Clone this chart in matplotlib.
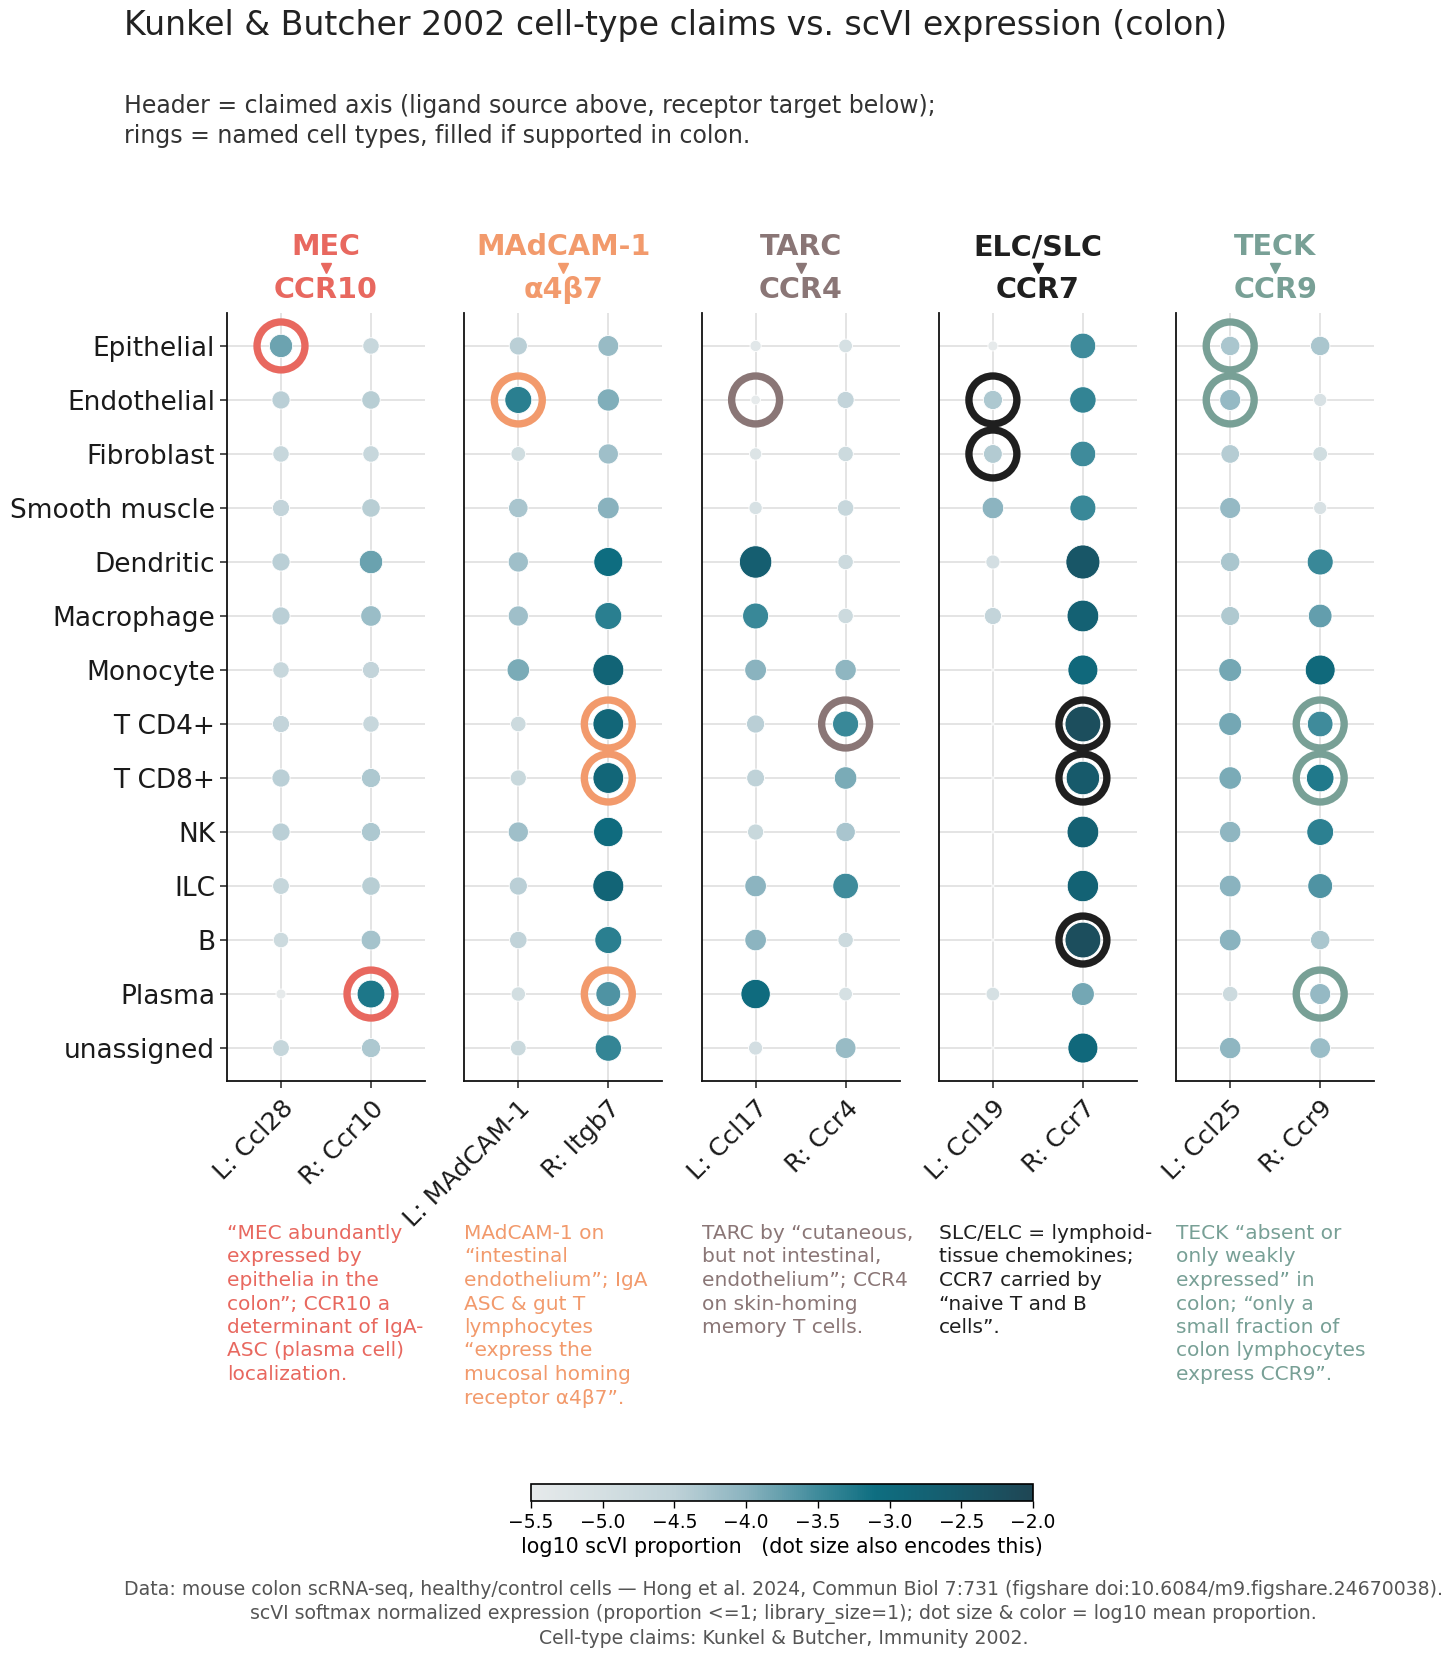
import numpy as np
import matplotlib
matplotlib.use("Agg")
import matplotlib.pyplot as plt
from matplotlib.colors import LinearSegmentedColormap, Normalize
from matplotlib.lines import Line2D
import matplotlib.colorbar as mcolorbar

# ---------------- data ----------------
cell_types = ["Epithelial", "Endothelial", "Fibroblast", "Smooth muscle", "Dendritic",
              "Macrophage", "Monocyte", "T CD4+", "T CD8+", "NK", "ILC", "B",
              "Plasma", "unassigned"]

ligands = ["MEC", "MAdCAM-1", "TARC", "ELC/SLC", "TECK"]
receptors = ["CCR10", "α4β7", "CCR4", "CCR7", "CCR9"]
axis_colors = ["#e8685f", "#f29a6c", "#8a7676", "#1f1f1f", "#78a096"]

genes_L = ["L: Ccl28", "L: MAdCAM-1", "L: Ccl17", "L: Ccl19", "L: Ccl25"]
genes_R = ["R: Ccr10", "R: Itgb7", "R: Ccr4", "R: Ccr7", "R: Ccr9"]

# log10 scVI mean proportion per cell type (rows as cell_types)
ccl28 = [-3.80, -4.46, -4.68, -4.59, -4.46, -4.46, -4.68, -4.59, -4.46, -4.46, -4.64, -4.80, -5.50, -4.64]
ccr10 = [-4.68, -4.42, -4.68, -4.42, -3.78, -4.15, -4.59, -4.68, -4.33, -4.33, -4.42, -4.25, -3.22, -4.33]
madcam1 = [-4.46, -3.33, -4.90, -4.29, -4.20, -4.20, -3.90, -4.80, -4.72, -4.20, -4.46, -4.55, -4.94, -4.77]
itgb7 = [-4.12, -3.93, -4.20, -3.99, -3.07, -3.33, -2.81, -2.85, -2.85, -3.02, -2.81, -3.33, -3.60, -3.41]
ccl17 = [-5.35, -5.55, -5.20, -5.08, -2.63, -3.46, -4.00, -4.46, -4.50, -4.72, -4.02, -4.02, -3.02, -4.98]
ccr4 = [-5.03, -4.59, -4.81, -4.68, -4.81, -4.81, -4.05, -3.45, -3.90, -4.29, -3.50, -4.81, -5.03, -4.12]
ccl19 = [-5.50, -4.33, -4.38, -4.02, -4.98, -4.59, -6.50, -6.50, -6.50, -6.50, -6.50, -6.50, -5.03, -6.50]
ccr7 = [-3.50, -3.40, -3.50, -3.45, -2.42, -2.72, -2.94, -2.20, -2.50, -2.72, -2.76, -2.20, -3.85, -2.94]
ccl25 = [-4.30, -4.10, -4.40, -4.10, -4.30, -4.35, -3.85, -3.85, -3.90, -4.05, -4.00, -4.00, -4.80, -4.05]
ccr9 = [-4.30, -5.10, -4.90, -5.10, -3.45, -3.75, -2.95, -3.50, -3.25, -3.35, -3.60, -4.30, -4.10, -4.15]

values_L = [ccl28, madcam1, ccl17, ccl19, ccl25]
values_R = [ccr10, itgb7, ccr4, ccr7, ccr9]

# claimed (ringed) cell types per gene
rings_L = [["Epithelial"], ["Endothelial"], ["Endothelial"], ["Endothelial", "Fibroblast"],
           ["Epithelial", "Endothelial"]]
rings_R = [["Plasma"], ["T CD4+", "T CD8+", "Plasma"], ["T CD4+"], ["T CD4+", "T CD8+", "B"],
           ["T CD4+", "T CD8+", "Plasma"]]

notes = [
    "“MEC abundantly\nexpressed by\nepithelia in the\ncolon”; CCR10 a\ndeterminant of IgA-\nASC (plasma cell)\nlocalization.",
    "MAdCAM-1 on\n“intestinal\nendothelium”; IgA\nASC & gut T\nlymphocytes\n“express the\nmucosal homing\nreceptor α4β7”.",
    "TARC by “cutaneous,\nbut not intestinal,\nendothelium”; CCR4\non skin-homing\nmemory T cells.",
    "SLC/ELC = lymphoid-\ntissue chemokines;\nCCR7 carried by\n“naive T and B\ncells”.",
    "TECK “absent or\nonly weakly\nexpressed” in\ncolon; “only a\nsmall fraction of\ncolon lymphocytes\nexpress CCR9”.",
]

vmin, vmax = -5.5, -2.0
cbar_ticks = [-5.5, -5.0, -4.5, -4.0, -3.5, -3.0, -2.5, -2.0]

# ---------------- style ----------------
plt.rcParams['font.family'] = ['DejaVu Sans']
W, H = 1456, 1657
fig = plt.figure(figsize=(W / 100, H / 100), dpi=100)

stops = [(-5.5, "#e6eaeb"), (-5.0, "#d4dfe2"), (-4.5, "#bfd2d8"), (-4.0, "#8ab3bf"),
         (-3.5, "#3f8b9b"), (-3.1, "#0e6e81"), (-2.5, "#175a6b"), (-2.0, "#1f4654")]
cmap = LinearSegmentedColormap.from_list(
    "teal", [((v - vmin) / (vmax - vmin), c) for v, c in stops])
norm = Normalize(vmin=vmin, vmax=vmax, clip=True)

EDGE_LW = 0.6


def dot_size(v):
    v = np.asarray(v, dtype=float)
    d_px = np.clip(9.2 + 7.8 * (v - vmin), 1.0, None)
    d_pt = d_px * 0.72 + EDGE_LW
    return d_pt ** 2


ax_w = 198 / W
ax_h = 768 / H
ax_b = 1 - 1081 / H
lefts = [227 + i * 237.3 for i in range(5)]
y = np.arange(len(cell_types))

for i in range(5):
    ax = fig.add_axes([lefts[i] / W, ax_b, ax_w, ax_h])
    ax.set_xlim(-0.6, 1.6)
    ax.set_ylim(len(cell_types) - 1 + 0.61, -0.61)
    # grid
    for yy in y:
        ax.axhline(yy, color="#dddddd", lw=1.1, zorder=0)
    for xx in (0, 1):
        ax.axvline(xx, color="#dddddd", lw=1.1, zorder=0)
    for col, vals, rings in ((0, values_L[i], rings_L[i]), (1, values_R[i], rings_R[i])):
        vals = np.asarray(vals)
        ax.scatter(np.full(len(y), col), y, s=dot_size(vals), c=vals, cmap=cmap, norm=norm,
                   edgecolors="white", linewidths=EDGE_LW, zorder=3)
        ry = [cell_types.index(r) for r in rings]
        ax.scatter(np.full(len(ry), col), ry, s=34.5 ** 2, facecolors="none",
                   edgecolors=axis_colors[i], linewidths=5.3, zorder=4)
    ax.set_xticks([0, 1])
    ax.set_xticklabels([genes_L[i], genes_R[i]], rotation=45, ha="right",
                       rotation_mode="anchor", fontsize=18.2, color="#1a1a1a")
    ax.tick_params(axis="x", length=5, width=1.1, color="#222222", pad=6)
    ax.set_yticks(y)
    if i == 0:
        ax.set_yticklabels(cell_types, fontsize=19, color="#1a1a1a")
        ax.tick_params(axis="y", length=5, width=1.1, color="#222222")
    else:
        ax.set_yticklabels([])
        ax.tick_params(axis="y", length=0)
    for sp in ("top", "right"):
        ax.spines[sp].set_visible(False)
    for sp in ("left", "bottom"):
        ax.spines[sp].set_linewidth(1.3)
        ax.spines[sp].set_color("#111111")
    # header
    cx = (lefts[i] + 99) / W
    fig.text(cx, 1 - 247 / H, ligands[i], ha="center", va="center", fontsize=20.6,
             fontweight="bold", color=axis_colors[i])
    fig.add_artist(Line2D([cx], [1 - 268 / H], marker="v", markersize=7.5, linestyle="none",
                          color=axis_colors[i], transform=fig.transFigure))
    fig.text(cx, 1 - 290 / H, receptors[i], ha="center", va="center", fontsize=20.6,
             fontweight="bold", color=axis_colors[i])
    # notes
    fig.text(lefts[i] / W, 1 - 1224 / H, notes[i], ha="left", va="top", fontsize=14.5,
             color=axis_colors[i], linespacing=1.3)

# title and subtitle
fig.text(124 / W, 1 - 25 / H, "Kunkel & Butcher 2002 cell-type claims vs. scVI expression (colon)",
         ha="left", va="center", fontsize=23.9, color="#222222")
fig.text(124 / W, 1 - 121 / H,
         "Header = claimed axis (ligand source above, receptor target below);\n"
         "rings = named cell types, filled if supported in colon.",
         ha="left", va="center", fontsize=17, color="#333333", linespacing=1.3)

# colorbar
cax = fig.add_axes([531 / W, 1 - 1501 / H, 502 / W, 17 / H])
cb = mcolorbar.ColorbarBase(cax, cmap=cmap, norm=Normalize(vmin=vmin, vmax=vmax),
                            orientation="horizontal", ticks=cbar_ticks)
cb.outline.set_linewidth(1.2)
cb.ax.tick_params(labelsize=13.5, length=5, width=1.0)
cb.set_label("log10 scVI proportion   (dot size also encodes this)", fontsize=14.9, labelpad=4)

# footer
fig.text(0.538, 1 - 1614 / H,
         "Data: mouse colon scRNA-seq, healthy/control cells — Hong et al. 2024, Commun Biol 7:731 "
         "(figshare doi:10.6084/m9.figshare.24670038).\n"
         "scVI softmax normalized expression (proportion <=1; library_size=1); dot size & color = log10 mean proportion.\n"
         "Cell-type claims: Kunkel & Butcher, Immunity 2002.",
         ha="center", va="center", fontsize=13.6, color="#555555", linespacing=1.35)

fig.savefig("out.png", dpi=100)
